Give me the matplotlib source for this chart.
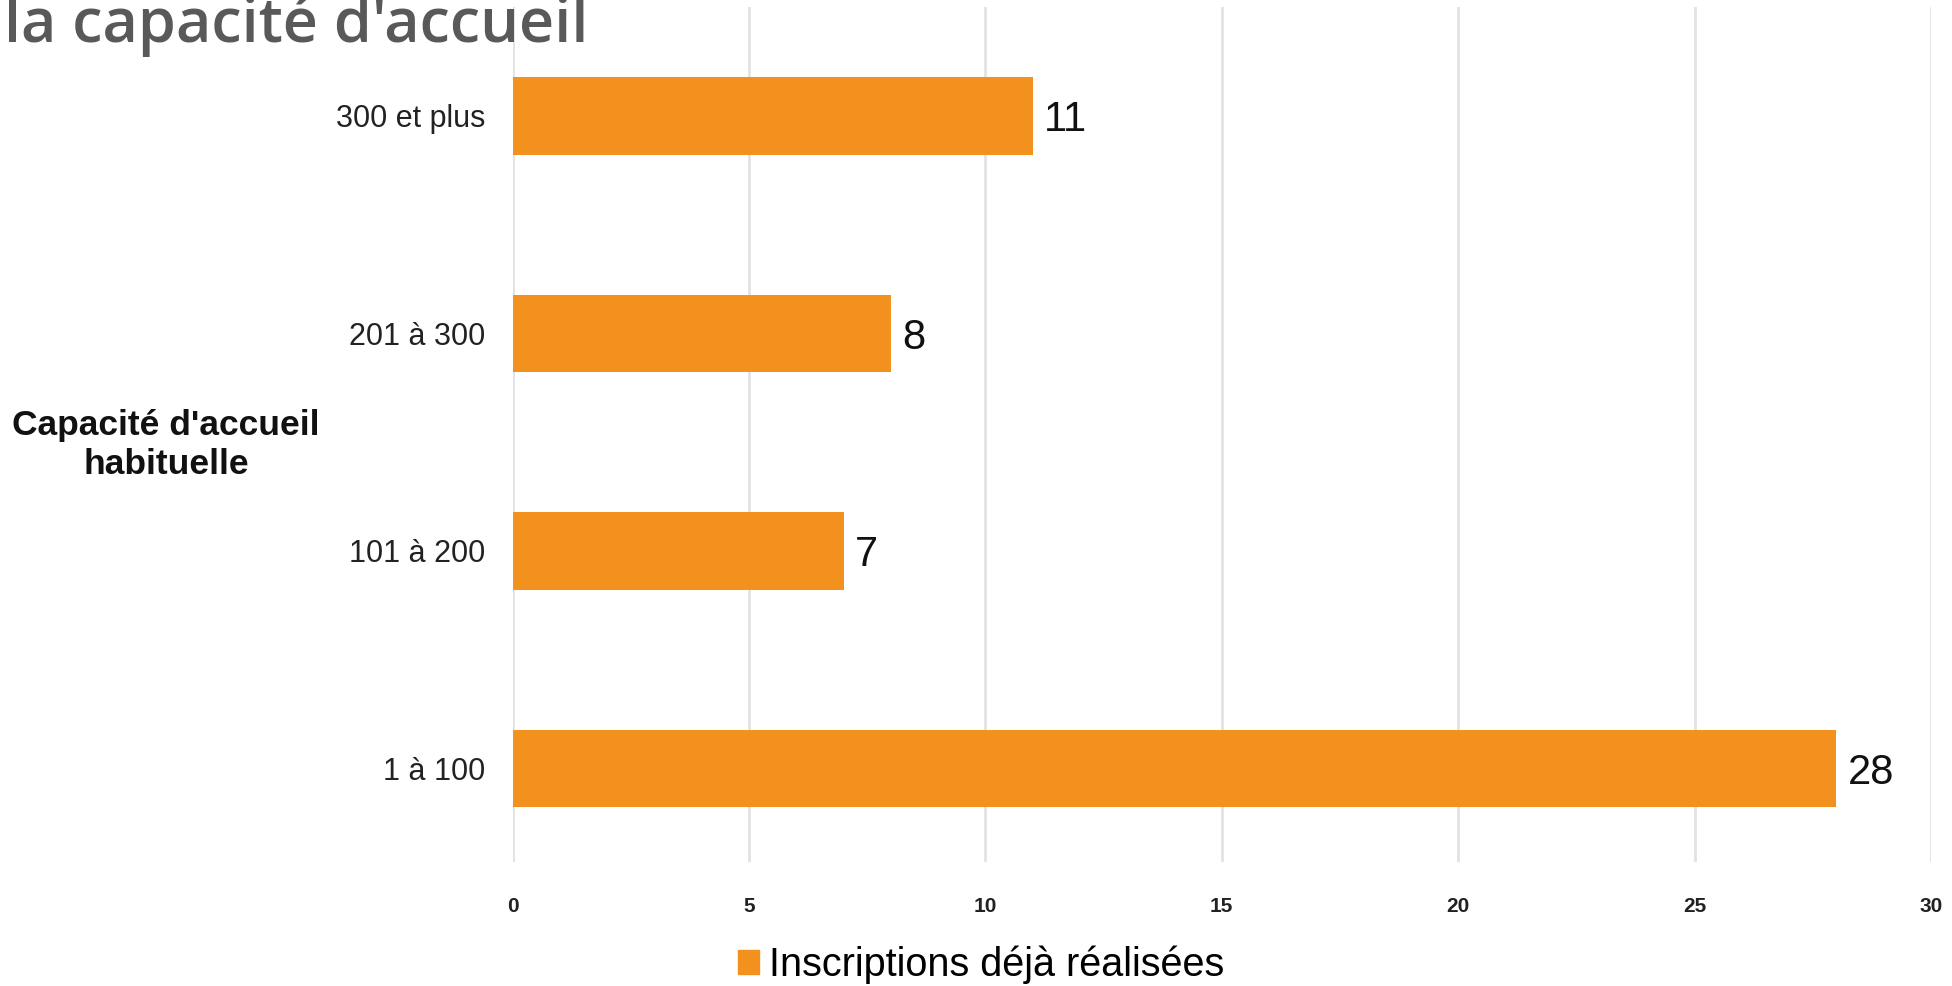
import matplotlib.pyplot as plt
from matplotlib.patches import Patch

categories = ["1 à 100", "101 à 200", "201 à 300", "300 et plus"]
values = [28, 7, 8, 11]
xticks = [0, 5, 10, 15, 20, 25, 30]
series_name = "Inscriptions déjà réalisées"
y_title = "Capacité d'accueil\nhabituelle"
title = "la capacité d'accueil"

orange = "#F2911E"

plt.rcParams['font.family'] = ['Liberation Sans', 'DejaVu Sans']

fig = plt.figure(figsize=(19.52, 9.86), dpi=100)
ax = fig.add_axes([0.2626, 0.1258, 0.7266, 0.867])

ypos = list(range(len(categories)))
ax.barh(ypos, values, height=0.356, color=orange, zorder=3)
for y, v in zip(ypos, values):
    ax.annotate(str(v), (v, y), xytext=(8, 0), textcoords='offset points',
                ha='left', va='center_baseline', fontsize=30, color='#111111')

ax.set_xlim(0, 30)
ax.set_ylim(-0.43, 3.5)
ax.set_xticks(xticks)
ax.set_xticklabels([str(t) for t in xticks], fontsize=15, fontweight='bold',
                   color='#222222')
ax.set_yticks(ypos)
ax.set_yticklabels(categories, fontsize=22, color='#222222')
ax.tick_params(axis='x', length=0, pad=25)
ax.tick_params(axis='y', length=0, pad=19.5)
ax.grid(axis='x', color='#e2e2e2', linewidth=2, zorder=0)
for s in ax.spines.values():
    s.set_visible(False)

fig.text(166 / 1952, 1 - 445 / 986, y_title, ha='center', va='center',
         fontsize=25.5, fontweight='bold', multialignment='center',
         linespacing=1.25, color='#111111')

# titre coupé en haut, comme sur la capture
fig.text(0.002, 1 - 42 / 986, title, ha='left', va='baseline',
         fontsize=44, fontweight='semibold', color='#595959',
         family=['Open Sans', 'DejaVu Sans'])

fig.legend(handles=[Patch(color=orange)], labels=[series_name],
           loc='center', bbox_to_anchor=(0.5026, 1 - 965 / 986),
           frameon=False, fontsize=28.5, handlelength=0.55, handleheight=0.55,
           handletextpad=0.25, borderaxespad=0)

fig.savefig('out.png', dpi=100)
